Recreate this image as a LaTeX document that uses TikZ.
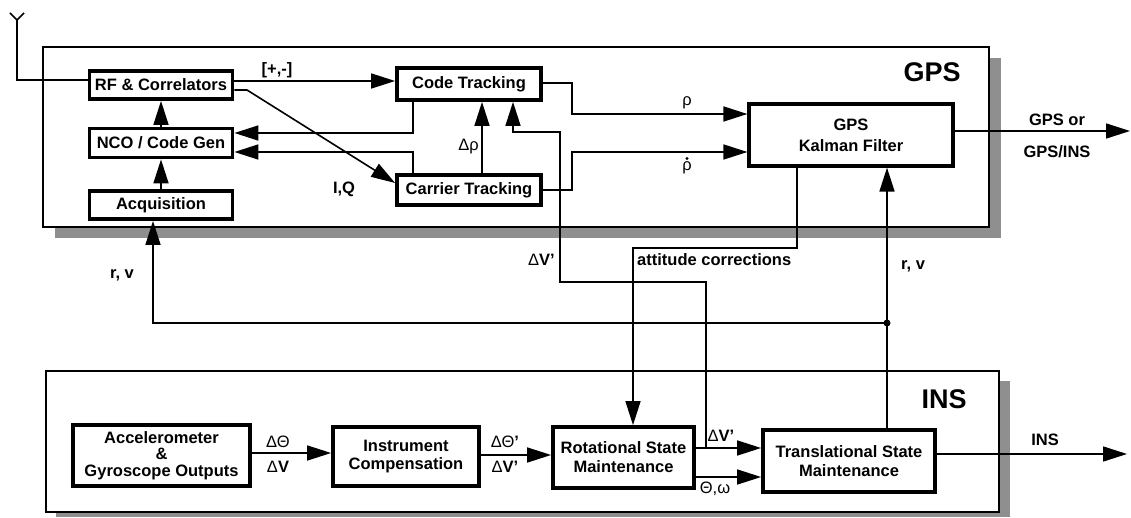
\documentclass[tikz,border=0pt]{standalone}
\usepackage{fontspec}
\setmainfont{Liberation Sans}
\usetikzlibrary{arrows.meta,calc}
\definecolor{shadowgray}{RGB}{143,143,143}
\newcommand{\gk}[1]{{\mdseries #1}}
\begin{document}
\begin{tikzpicture}[x=1pt,y=-1pt,
  blk/.style={draw, line width=3.8pt, fill=white, inner sep=0pt, align=center,
    font=\fontsize{16.5}{19}\selectfont\bfseries},
  conn/.style={line width=1.6pt},
  arr/.style={conn, -{Triangle[length=24pt,width=15pt]}},
  lbl/.style={inner sep=0pt, font=\fontsize{16.5}{19}\selectfont\bfseries},
  ttl/.style={inner sep=0pt, font=\fontsize{27}{27}\selectfont\bfseries},
  frm/.style={draw, line width=2pt, fill=white},
  shd/.style={fill=shadowgray}]
\useasboundingbox (0,0) rectangle (1131,518);
% frames
\fill[shd] (55,58) rectangle (1001,238);
\draw[frm] (43,47) rectangle (989,227);
\fill[shd] (56,381) rectangle (1010,517);
\draw[frm] (46,371) rectangle (999,512);
\node[ttl] (gpst) at (932,72) {GPS};
\node[ttl] (inst) at (944,399) {INS};
% GPS blocks
\node[blk, minimum width=143, minimum height=28] (rf) at (161,85) {RF \& Correlators};
\node[blk, minimum width=143, minimum height=29] (nco) at (161,143) {NCO / Code Gen};
\node[blk, minimum width=143, minimum height=28] (acq) at (161,205) {Acquisition};
\node[blk, minimum width=144, minimum height=32] (code) at (469,84) {Code Tracking};
\node[blk, minimum width=144, minimum height=30] (carr) at (469,190) {Carrier Tracking};
\node[blk, line width=3.2pt, minimum width=204, minimum height=62, font=\fontsize{16.5}{21}\selectfont\bfseries] (kal) at (851,135) {GPS\\Kalman Filter};
% INS blocks
\node[blk, minimum width=177, minimum height=61, font=\fontsize{16.5}{16.5}\selectfont\bfseries] (acc) at (161.5,455.5) {Accelerometer\\\&\\Gyroscope Outputs};
\node[blk, minimum width=146, minimum height=59, font=\fontsize{16.5}{18}\selectfont\bfseries] (icomp) at (406,456.5) {Instrument\\Compensation};
\node[blk, minimum width=141, minimum height=61] (rot) at (623.5,457.5) {Rotational State\\Maintenance};
\node[blk, minimum width=172, minimum height=62] (trans) at (849,461) {Translational State\\Maintenance};
% antenna
\coordinate (antL) at (10,13);
\coordinate (antR) at (24,13);
\coordinate (ant) at (17,20);
\draw[conn] (antL) -- (ant) -- (antR);
\draw[conn] (ant) |- ($(rf.west)+(0,-5)$);
% GPS connectors
\draw[arr] ($(rf.east)+(0,-4)$) -- ($(code.west)+(0,-3)$);
\node[lbl] at (277,70) {[+,-]};
\coordinate (iqk) at (247,90);
\draw[arr] ($(rf.east)+(0,5)$) -- (iqk) -- ($(carr.west)+(0,-7)$);
\node[lbl] at (344,189) {I,Q};
\draw[arr] ($(code.south)+(-56,0)$) |- ($(nco.east)+(0,-10)$);
\draw[arr] ($(carr.north)+(-56,0)$) |- ($(nco.east)+(0,9)$);
\draw[arr] ($(carr.north)+(13,0)$) -- ($(code.south)+(13,0)$);
\node[lbl, anchor=east] at (479,147) {\gk{Δρ}};
\draw[arr] (acq.north) -- (nco.south);
\draw[arr] (nco.north) -- (rf.south);
\coordinate (rj1) at (572,83);
\coordinate (rj2) at (572,114);
\draw[arr] ($(code.east)+(0,-1)$) -- (rj1) -- (rj2) -- ($(kal.west)+(0,-21)$);
\node[lbl] at (687,103) {\gk{ρ}};
\coordinate (dj1) at (572,190);
\coordinate (dj2) at (572,152);
\draw[arr] (carr.east) -- (dj1) -- (dj2) -- ($(kal.west)+(0,17)$);
\node[lbl] (rhod) at (687,168) {\gk{ρ}};
\fill (687,158.5) circle (1.7);
% Kalman output
\coordinate (gpsout) at (1130,131);
\draw[arr] ($(kal.east)+(0,-4)$) -- (gpsout);
\node[lbl] at (1057,120) {GPS or};
\node[lbl] at (1057,152) {GPS/INS};
% INS chain
\draw[arr] ($(acc.east)+(0,-2.5)$) -- ($(icomp.west)+(0,-3.5)$);
\node[lbl] at (278,442) {\gk{ΔΘ}};
\node[lbl] at (278,467) {\gk{Δ}V};
\draw[arr] ($(icomp.east)+(0,-1.5)$) -- ($(rot.west)+(0,-2.5)$);
\node[lbl] at (505,442) {\gk{ΔΘ}’};
\node[lbl] at (505,467) {\gk{Δ}V’};
\draw[arr] ($(rot.east)+(0,-9.5)$) -- ($(trans.west)+(0,-13)$);
\node[lbl] at (721,436) {\gk{Δ}V’};
\draw[arr] ($(rot.east)+(0,19.5)$) -- ($(trans.west)+(0,16)$);
\node[lbl] at (715,489) {\gk{Θ,ω}};
\coordinate (insout) at (1127,454);
\draw[arr] ($(trans.east)+(0,-7)$) -- (insout);
\node[lbl] at (1045,440) {INS};
% feedback Delta V' to code tracking
\coordinate (dvj) at (706,448);
\coordinate (dv1) at (706,282);
\coordinate (dv2) at (560,282);
\coordinate (dv3) at (560,132);
\draw[arr] (dvj) -- (dv1) -- (dv2) -- (dv3) -| ($(code.south)+(44,0)$);
\node[lbl, anchor=east] at (555,260) {\gk{Δ}V’};
% attitude corrections
\coordinate (ac1) at (797,248);
\coordinate (ac2) at (633,248);
\draw[arr] ($(kal.south)+(-54,0)$) -- (ac1) -- (ac2) -- ($(rot.north)+(9.5,0)$);
\node[lbl, anchor=west] at (637,260) {attitude corrections};
% r, v
\draw[arr] ($(trans.north)+(38,0)$) -- ($(kal.south)+(36,0)$);
\node[lbl] at (913,266) {r, v};
\coordinate (rvdot) at (887,323);
\coordinate (rvc) at (153,323);
\fill (rvdot) circle (3.5);
\draw[arr] (rvdot) -- (rvc) -- ($(acq.south)+(-8,0)$);
\node[lbl] at (122,275) {r, v};
\end{tikzpicture}
\end{document}
